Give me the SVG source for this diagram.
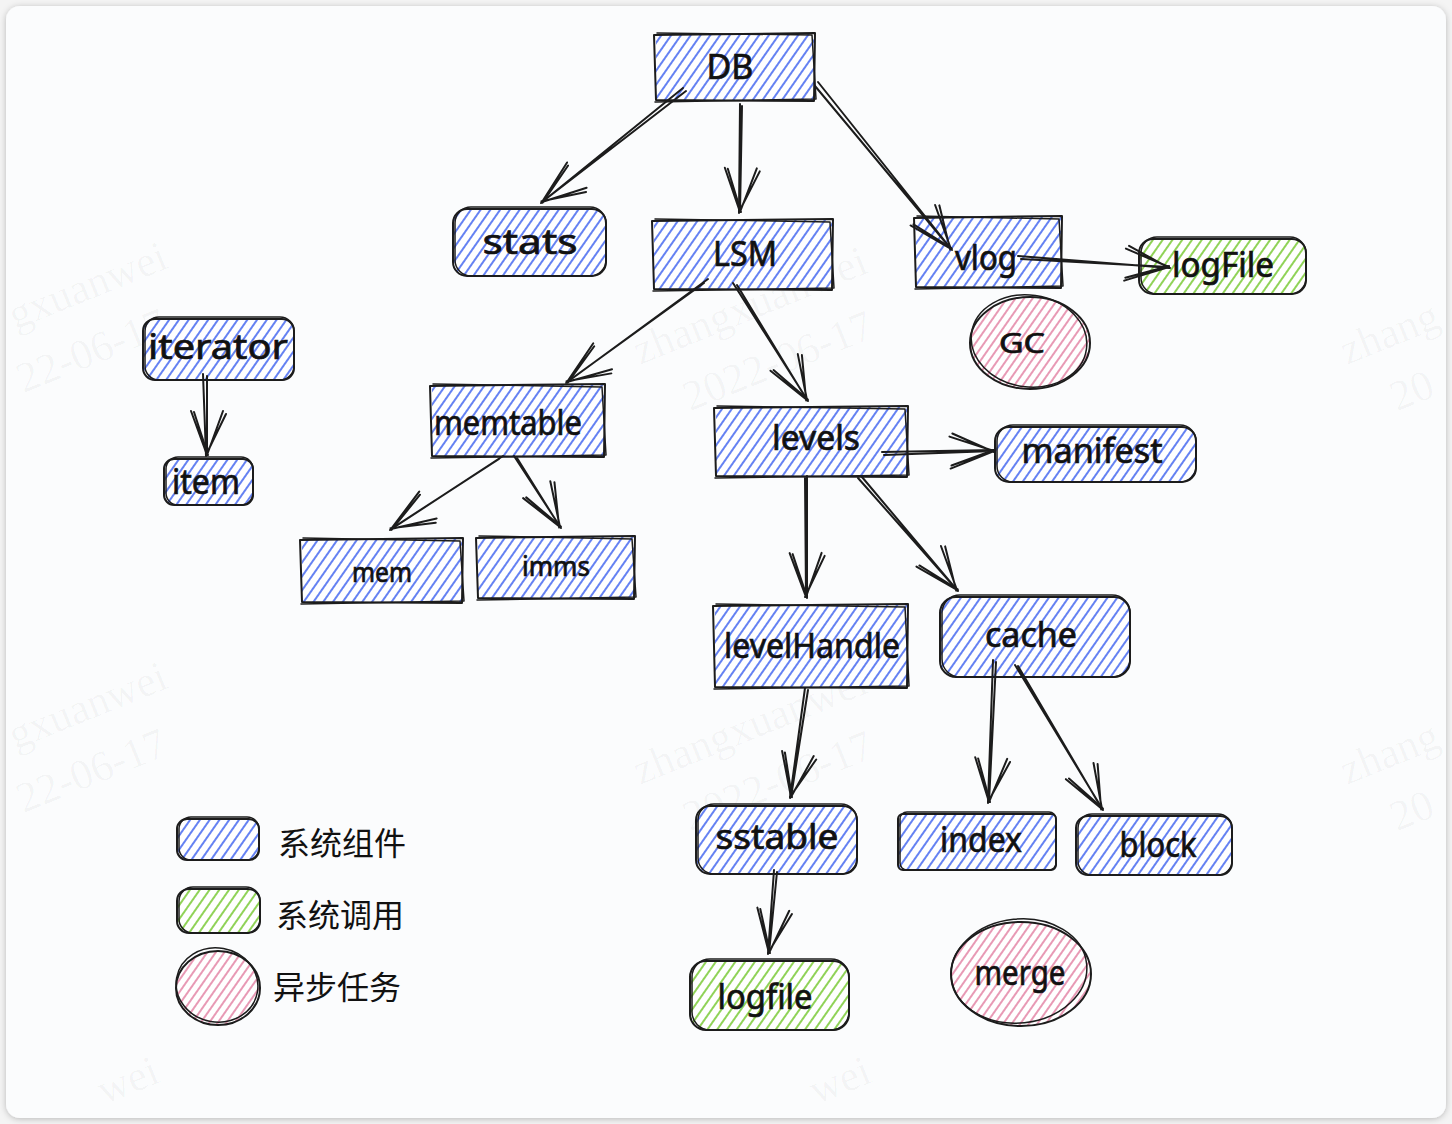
<svg xmlns="http://www.w3.org/2000/svg" width="1452" height="1124" viewBox="0 0 1452 1124">
  <defs>
    <style>
      .ink { fill: none; stroke: #1c1c1c; stroke-width: 2; stroke-linecap: round; stroke-linejoin: round; }
      .ink2 { fill: none; stroke: #1c1c1c; stroke-width: 1.5; stroke-linecap: round; stroke-linejoin: round; }
      .blue { fill: url(#hatchBlue); }
      .green { fill: url(#hatchGreen); }
      .pink { fill: url(#hatchPink); }
      .label { font-family: "Noto Sans", "DejaVu Sans", sans-serif; font-size: 34px; fill: #111; stroke: #111; stroke-width: 0.7; text-anchor: middle; dominant-baseline: central; }
      .small { font-size: 27px; }
      .legend { font-family: "Noto Sans CJK SC", "Noto Sans", sans-serif; font-size: 32px; fill: #111; dominant-baseline: central; }
      .wm { font-family: "Liberation Serif", serif; font-size: 43px; fill: #000; fill-opacity: 0.035; }
      .arrow { marker-end: url(#head); }
    </style>
    <pattern id="hatchBlue" patternUnits="userSpaceOnUse" width="8" height="8" patternTransform="rotate(35)">
      <rect width="8" height="8" fill="#ffffff"/>
      <line x1="2" y1="0" x2="2" y2="8" stroke="#4a6cf0" stroke-width="1.7"/>
    </pattern>
    <pattern id="hatchGreen" patternUnits="userSpaceOnUse" width="8" height="8" patternTransform="rotate(35)">
      <rect width="8" height="8" fill="#ffffff"/>
      <line x1="2" y1="0" x2="2" y2="8" stroke="#7dcb3a" stroke-width="1.7"/>
    </pattern>
    <pattern id="hatchPink" patternUnits="userSpaceOnUse" width="7" height="7" patternTransform="rotate(35)">
      <rect width="7" height="7" fill="#ffffff"/>
      <line x1="2" y1="0" x2="2" y2="7" stroke="#df6f96" stroke-width="1.4"/>
    </pattern>
    <!-- open sketchy arrowhead, drawn twice for a pen look -->
    <marker id="head" markerUnits="userSpaceOnUse" markerWidth="80" markerHeight="60" refX="0" refY="0" orient="auto" overflow="visible" viewBox="-60 -30 80 60">
      <path class="ink" d="M-44,-16 L0,0 L-44,16 M-41,-19 L0,1 M-43,13 L0,-1"/>
    </marker>
    <filter id="cardShadow" x="-5%" y="-5%" width="110%" height="110%">
      <feDropShadow dx="0" dy="1" stdDeviation="3" flood-color="#000" flood-opacity="0.25"/>
    </filter>
  </defs>

  <!-- page and card -->
  <rect width="1452" height="1124" fill="#f4f4f4"/>
  <rect x="6" y="6" width="1440" height="1112" rx="14" fill="#fbfcfd" filter="url(#cardShadow)"/>

  <!-- faint watermark tiles (only the parts that fall on the card) -->
  <g id="watermark">
    <g transform="translate(-72,365) rotate(-22)"><text class="wm" x="94">gxuanwei</text><text class="wm" x="78" y="62">22-06-17</text></g>
    <g transform="translate(640,365) rotate(-22)"><text class="wm">zhangxuanwei</text><text class="wm" x="29" y="62">2022-06-17</text></g>
    <g transform="translate(1347,365) rotate(-22)"><text class="wm">zhang</text><text class="wm" x="29" y="62">20</text></g>
    <g transform="translate(-72,785) rotate(-22)"><text class="wm" x="94">gxuanwei</text><text class="wm" x="78" y="62">22-06-17</text></g>
    <g transform="translate(640,785) rotate(-22)"><text class="wm">zhangxuanwei</text><text class="wm" x="29" y="62">2022-06-17</text></g>
    <g transform="translate(1347,785) rotate(-22)"><text class="wm">zhang</text><text class="wm" x="29" y="62">20</text></g>
    <g transform="translate(-72,1176) rotate(-22)"><text class="wm" x="190">wei</text></g>
    <g transform="translate(640,1176) rotate(-22)"><text class="wm" x="190">wei</text></g>
  </g>

  <!-- nodes -->
  <g id="node-db">
    <rect class="blue" x="656" y="34" width="158" height="66"/>
    <path class="ink" d="M654,35 L815,33 L814,101 L656,100 Z"/>
    <path class="ink2" d="M657,33 L812,35 L816,99 L655,102"/>
    <text class="label" x="730" y="66">DB</text>
  </g>

  <g id="node-stats">
    <rect class="blue" x="453" y="209" width="153" height="67" rx="14"/>
    <rect class="ink" x="453" y="209" width="153" height="67" rx="14"/>
    <rect class="ink2" x="455" y="207" width="151" height="69" rx="16"/>
    <text class="label" x="530" y="241" textLength="95" lengthAdjust="spacingAndGlyphs">stats</text>
  </g>

  <g id="node-lsm">
    <rect class="blue" x="654" y="220" width="178" height="69"/>
    <path class="ink" d="M652,221 L833,219 L832,290 L654,289 Z"/>
    <path class="ink2" d="M655,219 L830,222 L834,288 L653,291"/>
    <text class="label" x="745" y="253" textLength="64" lengthAdjust="spacingAndGlyphs">LSM</text>
  </g>

  <g id="node-vlog">
    <rect class="blue" x="916" y="217" width="145" height="70"/>
    <path class="ink" d="M914,218 L1062,216 L1061,288 L916,287 Z"/>
    <path class="ink2" d="M917,216 L1059,219 L1063,286 L915,289"/>
    <text class="label" x="986" y="257" textLength="62" lengthAdjust="spacingAndGlyphs">vlog</text>
  </g>

  <g id="node-logFile">
    <rect class="green" x="1139" y="239" width="167" height="55" rx="14"/>
    <rect class="ink" x="1139" y="239" width="167" height="55" rx="14"/>
    <rect class="ink2" x="1141" y="237" width="165" height="57" rx="16"/>
    <text class="label" x="1223" y="264" textLength="102" lengthAdjust="spacingAndGlyphs">logFile</text>
  </g>

  <g id="node-gc">
    <ellipse class="pink" cx="1030" cy="343" rx="60" ry="46"/>
    <ellipse class="ink" cx="1030" cy="343" rx="60" ry="46"/>
    <ellipse class="ink2" cx="1029" cy="341" rx="58" ry="46" transform="rotate(8 1029 341)"/>
    <text class="label small" x="1022" y="342" textLength="46" lengthAdjust="spacingAndGlyphs">GC</text>
  </g>

  <g id="node-iterator">
    <rect class="blue" x="143" y="319" width="151" height="61" rx="12"/>
    <rect class="ink" x="143" y="319" width="151" height="61" rx="12"/>
    <rect class="ink2" x="145" y="317" width="149" height="63" rx="14"/>
    <text class="label" x="218" y="346" textLength="140" lengthAdjust="spacingAndGlyphs">iterator</text>
  </g>

  <g id="node-item">
    <rect class="blue" x="164" y="459" width="89" height="46" rx="10"/>
    <rect class="ink" x="164" y="459" width="89" height="46" rx="10"/>
    <rect class="ink2" x="166" y="457" width="87" height="48" rx="12"/>
    <text class="label" x="206" y="481" textLength="68" lengthAdjust="spacingAndGlyphs">item</text>
  </g>

  <g id="node-memtable">
    <rect class="blue" x="432" y="385" width="172" height="71"/>
    <path class="ink" d="M430,386 L605,384 L604,457 L432,456 Z"/>
    <path class="ink2" d="M433,384 L602,387 L606,455 L431,458"/>
    <text class="label" x="508" y="422" textLength="148" lengthAdjust="spacingAndGlyphs">memtable</text>
  </g>

  <g id="node-levels">
    <rect class="blue" x="716" y="407" width="191" height="69"/>
    <path class="ink" d="M714,408 L908,406 L907,477 L716,476 Z"/>
    <path class="ink2" d="M717,406 L905,409 L909,475 L715,478"/>
    <text class="label" x="816" y="437" textLength="88" lengthAdjust="spacingAndGlyphs">levels</text>
  </g>

  <g id="node-manifest">
    <rect class="blue" x="995" y="427" width="201" height="55" rx="14"/>
    <rect class="ink" x="995" y="427" width="201" height="55" rx="14"/>
    <rect class="ink2" x="997" y="425" width="199" height="57" rx="16"/>
    <text class="label" x="1092" y="450" textLength="141" lengthAdjust="spacingAndGlyphs">manifest</text>
  </g>

  <g id="node-mem">
    <rect class="blue" x="302" y="539" width="160" height="63"/>
    <path class="ink" d="M300,540 L463,538 L462,603 L302,602 Z"/>
    <path class="ink2" d="M303,538 L460,541 L464,601 L301,604"/>
    <text class="label small" x="382" y="571" textLength="60" lengthAdjust="spacingAndGlyphs">mem</text>
  </g>

  <g id="node-imms">
    <rect class="blue" x="478" y="537" width="156" height="61"/>
    <path class="ink" d="M476,538 L635,536 L634,599 L478,598 Z"/>
    <path class="ink2" d="M479,536 L632,539 L636,597 L477,600"/>
    <text class="label small" x="556" y="565" textLength="68" lengthAdjust="spacingAndGlyphs">imms</text>
  </g>

  <g id="node-levelHandle">
    <rect class="blue" x="715" y="605" width="192" height="82"/>
    <path class="ink" d="M713,606 L908,604 L907,688 L715,687 Z"/>
    <path class="ink2" d="M716,604 L905,607 L909,686 L714,689"/>
    <text class="label" x="812" y="645" textLength="176" lengthAdjust="spacingAndGlyphs">levelHandle</text>
  </g>

  <g id="node-cache">
    <rect class="blue" x="940" y="597" width="190" height="80" rx="16"/>
    <rect class="ink" x="940" y="597" width="190" height="80" rx="16"/>
    <rect class="ink2" x="942" y="595" width="188" height="82" rx="18"/>
    <text class="label" x="1031" y="634" textLength="92" lengthAdjust="spacingAndGlyphs">cache</text>
  </g>

  <g id="node-sstable">
    <rect class="blue" x="696" y="806" width="161" height="68" rx="14"/>
    <rect class="ink" x="696" y="806" width="161" height="68" rx="14"/>
    <rect class="ink2" x="698" y="804" width="159" height="70" rx="16"/>
    <text class="label" x="777" y="836" textLength="123" lengthAdjust="spacingAndGlyphs">sstable</text>
  </g>

  <g id="node-index">
    <rect class="blue" x="898" y="814" width="158" height="56" rx="5"/>
    <rect class="ink" x="898" y="814" width="158" height="56" rx="5"/>
    <rect class="ink2" x="900" y="812" width="156" height="58" rx="7"/>
    <text class="label" x="981" y="839" textLength="82" lengthAdjust="spacingAndGlyphs">index</text>
  </g>

  <g id="node-block">
    <rect class="blue" x="1076" y="816" width="156" height="59" rx="12"/>
    <rect class="ink" x="1076" y="816" width="156" height="59" rx="12"/>
    <rect class="ink2" x="1078" y="814" width="154" height="61" rx="14"/>
    <text class="label" x="1158" y="844" textLength="77" lengthAdjust="spacingAndGlyphs">block</text>
  </g>

  <g id="node-logfile">
    <rect class="green" x="690" y="961" width="159" height="69" rx="16"/>
    <rect class="ink" x="690" y="961" width="159" height="69" rx="16"/>
    <rect class="ink2" x="692" y="959" width="157" height="71" rx="18"/>
    <text class="label" x="765" y="996" textLength="95" lengthAdjust="spacingAndGlyphs">logfile</text>
  </g>

  <g id="node-merge">
    <ellipse class="pink" cx="1021" cy="974" rx="70" ry="52"/>
    <ellipse class="ink" cx="1021" cy="974" rx="70" ry="52"/>
    <ellipse class="ink2" cx="1019" cy="971" rx="68" ry="52" transform="rotate(-6 1019 971)"/>
    <text class="label" x="1020" y="972" textLength="91" lengthAdjust="spacingAndGlyphs">merge</text>
  </g>

  <!-- connectors, drawn over the boxes -->
  <g id="connectors">
    <path class="ink arrow" d="M683,88 L541,203 M686,91 L542,202"/>
    <path class="ink arrow" d="M740,104 L739,213 M742,106 L740,212"/>
    <path class="ink arrow" d="M818,82 L952,250 M815,86 L951,249"/>
    <path class="ink arrow" d="M1018,256 L1170,268 M1021,259 L1169,267"/>
    <path class="ink arrow" d="M708,279 L566,383 M704,283 L567,382"/>
    <path class="ink arrow" d="M733,283 L808,401 M737,285 L807,400"/>
    <path class="ink arrow" d="M203,374 L206,456 M207,376 L207,455"/>
    <path class="ink arrow" d="M503,456 L390,530 M499,459 L391,529"/>
    <path class="ink arrow" d="M514,456 L561,528 M517,458 L560,527"/>
    <path class="ink arrow" d="M882,452 L995,450 M884,455 L994,451"/>
    <path class="ink arrow" d="M807,476 L807,598 M805,478 L806,597"/>
    <path class="ink arrow" d="M858,478 L958,591 M862,477 L957,590"/>
    <path class="ink arrow" d="M805,688 L790,798 M808,690 L791,797"/>
    <path class="ink arrow" d="M993,660 L988,803 M996,662 L989,802"/>
    <path class="ink arrow" d="M1015,665 L1103,810 M1018,666 L1102,809"/>
    <path class="ink arrow" d="M774,870 L768,954 M777,872 L769,953"/>
  </g>

  <!-- legend -->
  <g id="legend-component">
    <rect class="blue" x="177" y="819" width="82" height="41" rx="10"/>
    <rect class="ink" x="177" y="819" width="82" height="41" rx="10"/>
    <rect class="ink2" x="179" y="817" width="80" height="43" rx="12"/>
    <text class="legend" x="278" y="841">系统组件</text>
  </g>
  <g id="legend-call">
    <rect class="green" x="177" y="889" width="83" height="44" rx="12"/>
    <rect class="ink" x="177" y="889" width="83" height="44" rx="12"/>
    <rect class="ink2" x="179" y="887" width="81" height="46" rx="14"/>
    <text class="legend" x="276" y="913">系统调用</text>
  </g>
  <g id="legend-async">
    <ellipse class="pink" cx="218" cy="988" rx="42" ry="37"/>
    <ellipse class="ink" cx="218" cy="988" rx="42" ry="37"/>
    <ellipse class="ink2" cx="217" cy="985" rx="41" ry="37" transform="rotate(10 217 985)"/>
    <text class="legend" x="273" y="985">异步任务</text>
  </g>
</svg>
